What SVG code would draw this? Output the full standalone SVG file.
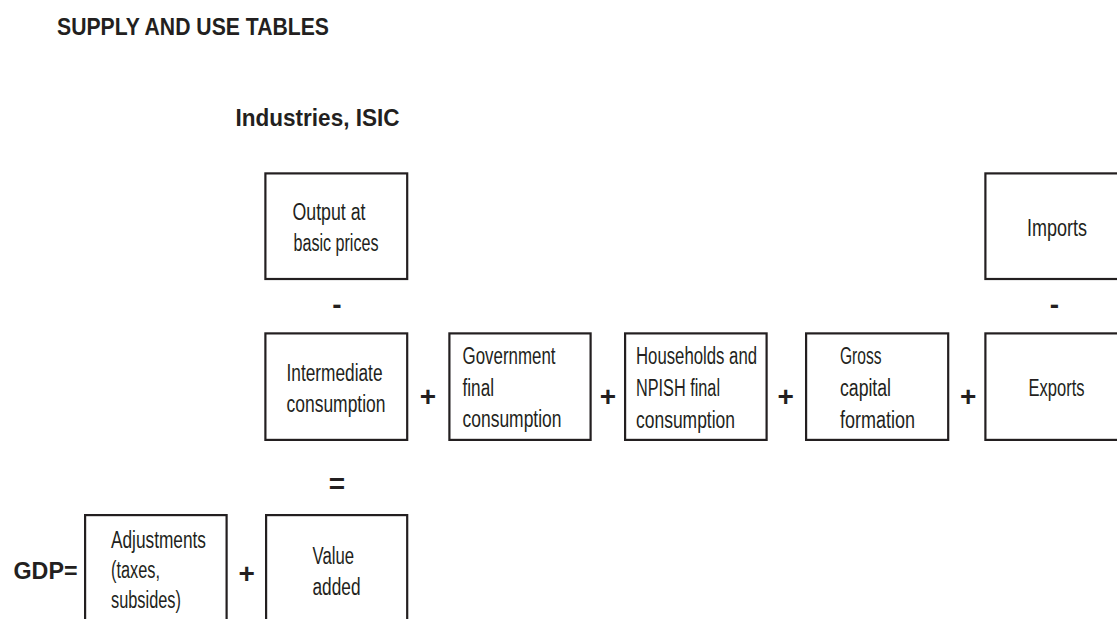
<svg xmlns="http://www.w3.org/2000/svg" width="1117" height="619" viewBox="0 0 1117 619">
<style>
  .box{fill:#ffffff;stroke:#231f20;stroke-width:2.2}
  .t{font-family:"Liberation Sans",Arial,sans-serif;font-size:23px;fill:#231f20}
  .b{font-family:"Liberation Sans",Arial,sans-serif;font-weight:bold;font-size:23px;fill:#231f20}
  .op{font-family:"Liberation Sans",Arial,sans-serif;font-weight:bold;font-size:28px;fill:#231f20;text-anchor:middle}
</style>
<rect width="1117" height="619" fill="#ffffff"/>
<g id="titles">
  <text class="b" x="57" y="35" textLength="272" lengthAdjust="spacingAndGlyphs">SUPPLY AND USE TABLES</text>
  <text class="b" x="235.5" y="126" textLength="164" lengthAdjust="spacingAndGlyphs">Industries, ISIC</text>
  <text class="b" x="13.5" y="578.5" textLength="64" lengthAdjust="spacingAndGlyphs">GDP=</text>
</g>
<g id="output">
  <rect class="box" x="265.4" y="173.4" width="141.8" height="105.6"/>
  <text class="t" x="292.5" y="220" textLength="73" lengthAdjust="spacingAndGlyphs">Output at</text>
  <text class="t" x="293.5" y="250.7" textLength="85" lengthAdjust="spacingAndGlyphs">basic prices</text>
</g>
<g id="imports">
  <rect class="box" x="985.4" y="173.4" width="141.8" height="105.6"/>
  <text class="t" x="1027" y="236" textLength="60" lengthAdjust="spacingAndGlyphs">Imports</text>
</g>
<g id="intermediate">
  <rect class="box" x="265.4" y="333.4" width="141.8" height="106.5"/>
  <text class="t" x="286.5" y="380.7" textLength="96" lengthAdjust="spacingAndGlyphs">Intermediate</text>
  <text class="t" x="286.5" y="412.3" textLength="99" lengthAdjust="spacingAndGlyphs">consumption</text>
</g>
<g id="government">
  <rect class="box" x="449.4" y="333.4" width="141.2" height="106.5"/>
  <text class="t" x="462.5" y="364" textLength="93" lengthAdjust="spacingAndGlyphs">Government</text>
  <text class="t" x="462.5" y="395.5" textLength="31.5" lengthAdjust="spacingAndGlyphs">final</text>
  <text class="t" x="462.5" y="427" textLength="99" lengthAdjust="spacingAndGlyphs">consumption</text>
</g>
<g id="households">
  <rect class="box" x="625.1" y="333.4" width="141.5" height="106.5"/>
  <text class="t" x="636" y="364" textLength="121" lengthAdjust="spacingAndGlyphs">Households and</text>
  <text class="t" x="636" y="395.5" textLength="84" lengthAdjust="spacingAndGlyphs">NPISH final</text>
  <text class="t" x="636" y="427.5" textLength="99" lengthAdjust="spacingAndGlyphs">consumption</text>
</g>
<g id="gross-capital">
  <rect class="box" x="806.1" y="333.4" width="142.1" height="106.5"/>
  <text class="t" x="840" y="364" textLength="41.5" lengthAdjust="spacingAndGlyphs">Gross</text>
  <text class="t" x="840" y="396" textLength="51" lengthAdjust="spacingAndGlyphs">capital</text>
  <text class="t" x="840" y="427.5" textLength="75" lengthAdjust="spacingAndGlyphs">formation</text>
</g>
<g id="exports">
  <rect class="box" x="985.4" y="333.4" width="141.8" height="106.5"/>
  <text class="t" x="1028.5" y="396" textLength="56" lengthAdjust="spacingAndGlyphs">Exports</text>
</g>
<g id="adjustments">
  <rect class="box" x="85.1" y="515.1" width="141.5" height="130"/>
  <text class="t" x="111" y="548.3" textLength="95" lengthAdjust="spacingAndGlyphs">Adjustments</text>
  <text class="t" x="111" y="578" textLength="49" lengthAdjust="spacingAndGlyphs">(taxes,</text>
  <text class="t" x="111" y="608.3" textLength="70" lengthAdjust="spacingAndGlyphs">subsides)</text>
</g>
<g id="value-added">
  <rect class="box" x="266.1" y="515.1" width="141.1" height="130"/>
  <text class="t" x="312.5" y="564" textLength="41.5" lengthAdjust="spacingAndGlyphs">Value</text>
  <text class="t" x="312.5" y="595" textLength="48" lengthAdjust="spacingAndGlyphs">added</text>
</g>
<g id="connectors">
  <text class="op" x="337" y="314">-</text>
  <text class="op" x="1054.3" y="314">-</text>
  <text class="op" x="428" y="406">+</text>
  <text class="op" x="608" y="406">+</text>
  <text class="op" x="785.7" y="406">+</text>
  <text class="op" x="968.3" y="406">+</text>
  <text class="op" x="337" y="493">=</text>
  <text class="op" x="246.7" y="583">+</text>
</g>
</svg>
